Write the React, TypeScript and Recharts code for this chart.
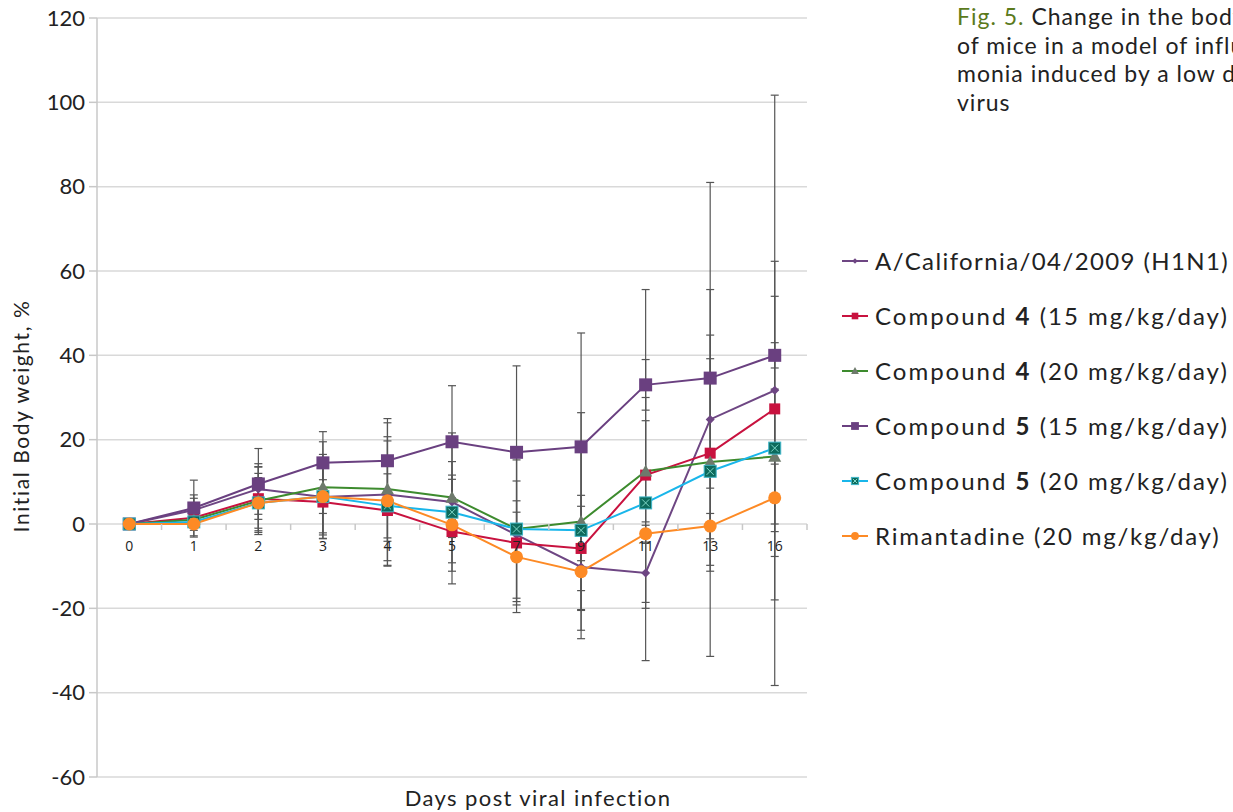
import React from 'react';
import { LineChart, Line, XAxis, YAxis, CartesianGrid, ErrorBar } from 'recharts';

const days = ['0', '1', '2', '3', '4', '5', '7', '9', '11', '13', '16'];
const yTicks = [-60, -40, -20, 0, 20, 40, 60, 80, 100, 120];

const caliValues = [0, 3.3, 8.3, 6.4, 7, 5.2, -2.6, -10.2, -11.6, 24.8, 31.7];
const caliErrors = [0, 3.6, 6, 9, 17, 16.4, 18.4, 17, 7, 56.2, 70];
const c4d15Values = [0, 1.5, 6, 5.2, 3.2, -1.8, -4.5, -5.8, 11.6, 16.8, 27.3];
const c4d15Errors = [0, 4.6, 7.6, 8.6, 13, 12.4, 14.7, 10, 44, 28, 35];
const c4d20Values = [0, 1, 5.5, 8.7, 8.3, 6.3, -1.2, 0.6, 12.5, 14.7, 16];
const c4d20Errors = [0, 2, 8, 10.8, 12.4, 5.3, 16.4, 25.8, 12, 24.5, 16];
const c5d15Values = [0, 3.8, 9.5, 14.5, 15, 19.5, 17, 18.3, 33, 34.6, 40];
const c5d15Errors = [0, 6.6, 8.4, 7.4, 10, 13.3, 20.5, 27, 6, 21, 3];
const c5d20Values = [0, 0.5, 5, 6.5, 4.3, 2.8, -1.2, -1.5, 5, 12.5, 18];
const c5d20Errors = [0, 2, 6, 4, 7.6, 12, 6.7, 19, 25, 4, 36];
const rimValues = [0, 0, 5, 6.5, 5.5, -0.2, -7.8, -11.3, -2.3, -0.5, 6.2];
const rimErrors = [0, 1, 7, 10, 14.2, 3, 10.6, 9, 2, 3, 8];

type Kind = 'diamond' | 'square' | 'triangle' | 'bigsquare' | 'xsquare' | 'circle';

interface SeriesDef {
  key: string;
  name: string;
  bold?: string;
  suffix?: string;
  values: number[];
  errors: number[];
  line: string;
  marker: string;
  kind: Kind;
  spacing: number;
}

const series: SeriesDef[] = [
  { key: 'cali', name: 'A/California/04/2009 (H1N1)', values: caliValues, errors: caliErrors, line: '#6e4683', marker: '#6e4683', kind: 'diamond', spacing: 1.4 },
  { key: 'c4d15', name: 'Compound ', bold: '4', suffix: ' (15 mg/kg/day)', values: c4d15Values, errors: c4d15Errors, line: '#c8123f', marker: '#c8123f', kind: 'square', spacing: 2.0 },
  { key: 'c4d20', name: 'Compound ', bold: '4', suffix: ' (20 mg/kg/day)', values: c4d20Values, errors: c4d20Errors, line: '#3d8b2e', marker: '#6e7a6c', kind: 'triangle', spacing: 2.0 },
  { key: 'c5d15', name: 'Compound ', bold: '5', suffix: ' (15 mg/kg/day)', values: c5d15Values, errors: c5d15Errors, line: '#6a4080', marker: '#6a4080', kind: 'bigsquare', spacing: 2.0 },
  { key: 'c5d20', name: 'Compound ', bold: '5', suffix: ' (20 mg/kg/day)', values: c5d20Values, errors: c5d20Errors, line: '#19b6ea', marker: '#0c6a5c', kind: 'xsquare', spacing: 2.0 },
  { key: 'rim', name: 'Rimantadine (20 mg/kg/day)', values: rimValues, errors: rimErrors, line: '#fd8a25', marker: '#fd8a25', kind: 'circle', spacing: 1.8 },
];

const data = days.map((d, i) => {
  const row: Record<string, any> = { day: d };
  series.forEach((s) => {
    row[s.key] = s.values[i];
    row[s.key + 'Err'] = s.errors[i];
  });
  return row;
});

const CHART_W = 1233;
const CHART_H = 812;
const X_AXIS_H = 35;
const MARGIN = { top: 18, right: 426, bottom: 0, left: 0 };
const Y_AXIS_W = 97;
const PLOT_TOP = MARGIN.top;
const PLOT_H = CHART_H - MARGIN.top - MARGIN.bottom - X_AXIS_H;
const PLOT_W = CHART_W - MARGIN.right - Y_AXIS_W;
const HALF_BAND = PLOT_W / days.length / 2;
const Y_MIN = -60;
const Y_MAX = 120;
const ZERO_Y = PLOT_TOP + (PLOT_H * (Y_MAX - 0)) / (Y_MAX - Y_MIN);

function drawMarker(kind: Kind, cx: number, cy: number, color: string, scale: number, key?: string) {
  const k = key;
  switch (kind) {
    case 'diamond': {
      const s = 4.5 * scale;
      return <path key={k} d={`M${cx},${cy - s}L${cx + s},${cy}L${cx},${cy + s}L${cx - s},${cy}Z`} fill={color} />;
    }
    case 'square': {
      const s = 5.5 * scale;
      return <rect key={k} x={cx - s} y={cy - s} width={2 * s} height={2 * s} fill={color} />;
    }
    case 'bigsquare': {
      const s = 6.5 * scale;
      return <rect key={k} x={cx - s} y={cy - s} width={2 * s} height={2 * s} fill={color} />;
    }
    case 'triangle': {
      const s = 6.5 * scale;
      return <path key={k} d={`M${cx},${cy - s}L${cx + s},${cy + s * 0.8}L${cx - s},${cy + s * 0.8}Z`} fill={color} />;
    }
    case 'xsquare': {
      const s = 6 * scale;
      return (
        <g key={k}>
          <rect x={cx - s} y={cy - s} width={2 * s} height={2 * s} fill={color} stroke="#3fb6c8" strokeWidth={1} />
          <path d={`M${cx - s * 0.6},${cy - s * 0.6}L${cx + s * 0.6},${cy + s * 0.6}M${cx + s * 0.6},${cy - s * 0.6}L${cx - s * 0.6},${cy + s * 0.6}`} stroke="#7fd8c8" strokeWidth={1} />
        </g>
      );
    }
    case 'circle':
    default:
      return <circle key={k} cx={cx} cy={cy} r={6.5 * scale} fill={color} />;
  }
}

const makeDot = (s: SeriesDef) => (props: any) => {
  const { cx, cy, index } = props;
  if (cx == null || cy == null) return <g key={`${s.key}-${index}`} />;
  return drawMarker(s.kind, cx, cy, s.marker, 1, `${s.key}-${index}`);
};

const XTick = (props: any) => {
  const { x, index, payload } = props;
  return (
    <g>
      <line x1={x - HALF_BAND} y1={ZERO_Y} x2={x - HALF_BAND} y2={ZERO_Y + 6} stroke="#c8c8c8" strokeWidth={1.5} />
      {index === days.length - 1 && <line x1={x + HALF_BAND} y1={ZERO_Y} x2={x + HALF_BAND} y2={ZERO_Y + 6} stroke="#c8c8c8" strokeWidth={1.5} />}
      <text x={x} y={ZERO_Y + 27} textAnchor="middle" fontSize={14} fontFamily="'Open Sans', sans-serif" fill="#222">
        {payload.value}
      </text>
    </g>
  );
};

const LegendBlock = () => (
  <div style={{ position: 'absolute', left: 842, top: 233, fontFamily: 'Lato, sans-serif', fontSize: 24, color: '#222' }}>
    {series.map((s) => (
      <div key={s.key} style={{ display: 'flex', alignItems: 'center', height: 55, whiteSpace: 'nowrap' }}>
        <svg width={33} height={20} style={{ flex: 'none' }}>
          <line x1={0} y1={10} x2={26} y2={10} stroke={s.line} strokeWidth={2} />
          {drawMarker(s.kind, 13, 10, s.marker, 0.6)}
        </svg>
        <span style={{ letterSpacing: s.spacing }}>
          {s.name}
          {s.bold && <b>{s.bold}</b>}
          {s.suffix}
        </span>
      </div>
    ))}
  </div>
);

export default function App() {
  return (
    <div style={{ position: 'absolute', left: 0, top: 0, width: CHART_W, height: CHART_H, overflow: 'hidden', background: '#fff' }}>
      <LineChart width={CHART_W} height={CHART_H} data={data} margin={MARGIN}>
        <CartesianGrid vertical={false} stroke="#d9d9d9" strokeWidth={1.5} />
        <XAxis
          dataKey="day"
          type="category"
          height={X_AXIS_H}
          padding={{ left: HALF_BAND, right: HALF_BAND }}
          axisLine={false}
          tickLine={false}
          interval={0}
          tick={<XTick />}
          label={{
            content: () => (
              <text x={538} y={806} textAnchor="middle" fontSize={22} letterSpacing={1.4} fontFamily="Lato, sans-serif" fill="#222">
                Days post viral infection
              </text>
            ),
          }}
        />
        <YAxis
          width={Y_AXIS_W}
          domain={[Y_MIN, Y_MAX]}
          ticks={yTicks}
          interval={0}
          axisLine={{ stroke: '#c8c8c8', strokeWidth: 1.5 }}
          tickLine={{ stroke: '#c8c8c8', strokeWidth: 1.5 }}
          tickSize={8}
          tickMargin={4}
          tick={{ fontSize: 22, fontFamily: 'Lato, sans-serif', fill: '#222' }}
          label={{
            content: () => (
              <text transform="translate(29,416) rotate(-90)" textAnchor="middle" fontSize={21} letterSpacing={1.6} fontFamily="Lato, sans-serif" fill="#222">
                Initial Body weight, %
              </text>
            ),
          }}
        />
        {series.map((s) => (
          <Line
            key={s.key}
            dataKey={s.key}
            name={s.key}
            stroke={s.line}
            strokeWidth={2}
            dot={makeDot(s)}
            activeDot={false}
            isAnimationActive={false}
          >
            <ErrorBar dataKey={s.key + 'Err'} direction="y" width={4} stroke="#555" strokeWidth={1.2} />
          </Line>
        ))}
      </LineChart>
      <LegendBlock />
      <div
        style={{
          position: 'absolute',
          left: 957,
          top: 2,
          fontFamily: 'Lato, sans-serif',
          fontSize: 23,
          letterSpacing: 1.0,
          lineHeight: '28.5px',
          color: '#222',
          whiteSpace: 'nowrap',
        }}
      >
        <div>
          <span style={{ color: '#5b7a1c' }}>Fig. 5.</span> Change in the body weight
        </div>
        <div>of mice in a model of influenza pneu-</div>
        <div>monia induced by a low dose of the</div>
        <div>virus</div>
      </div>
    </div>
  );
}
